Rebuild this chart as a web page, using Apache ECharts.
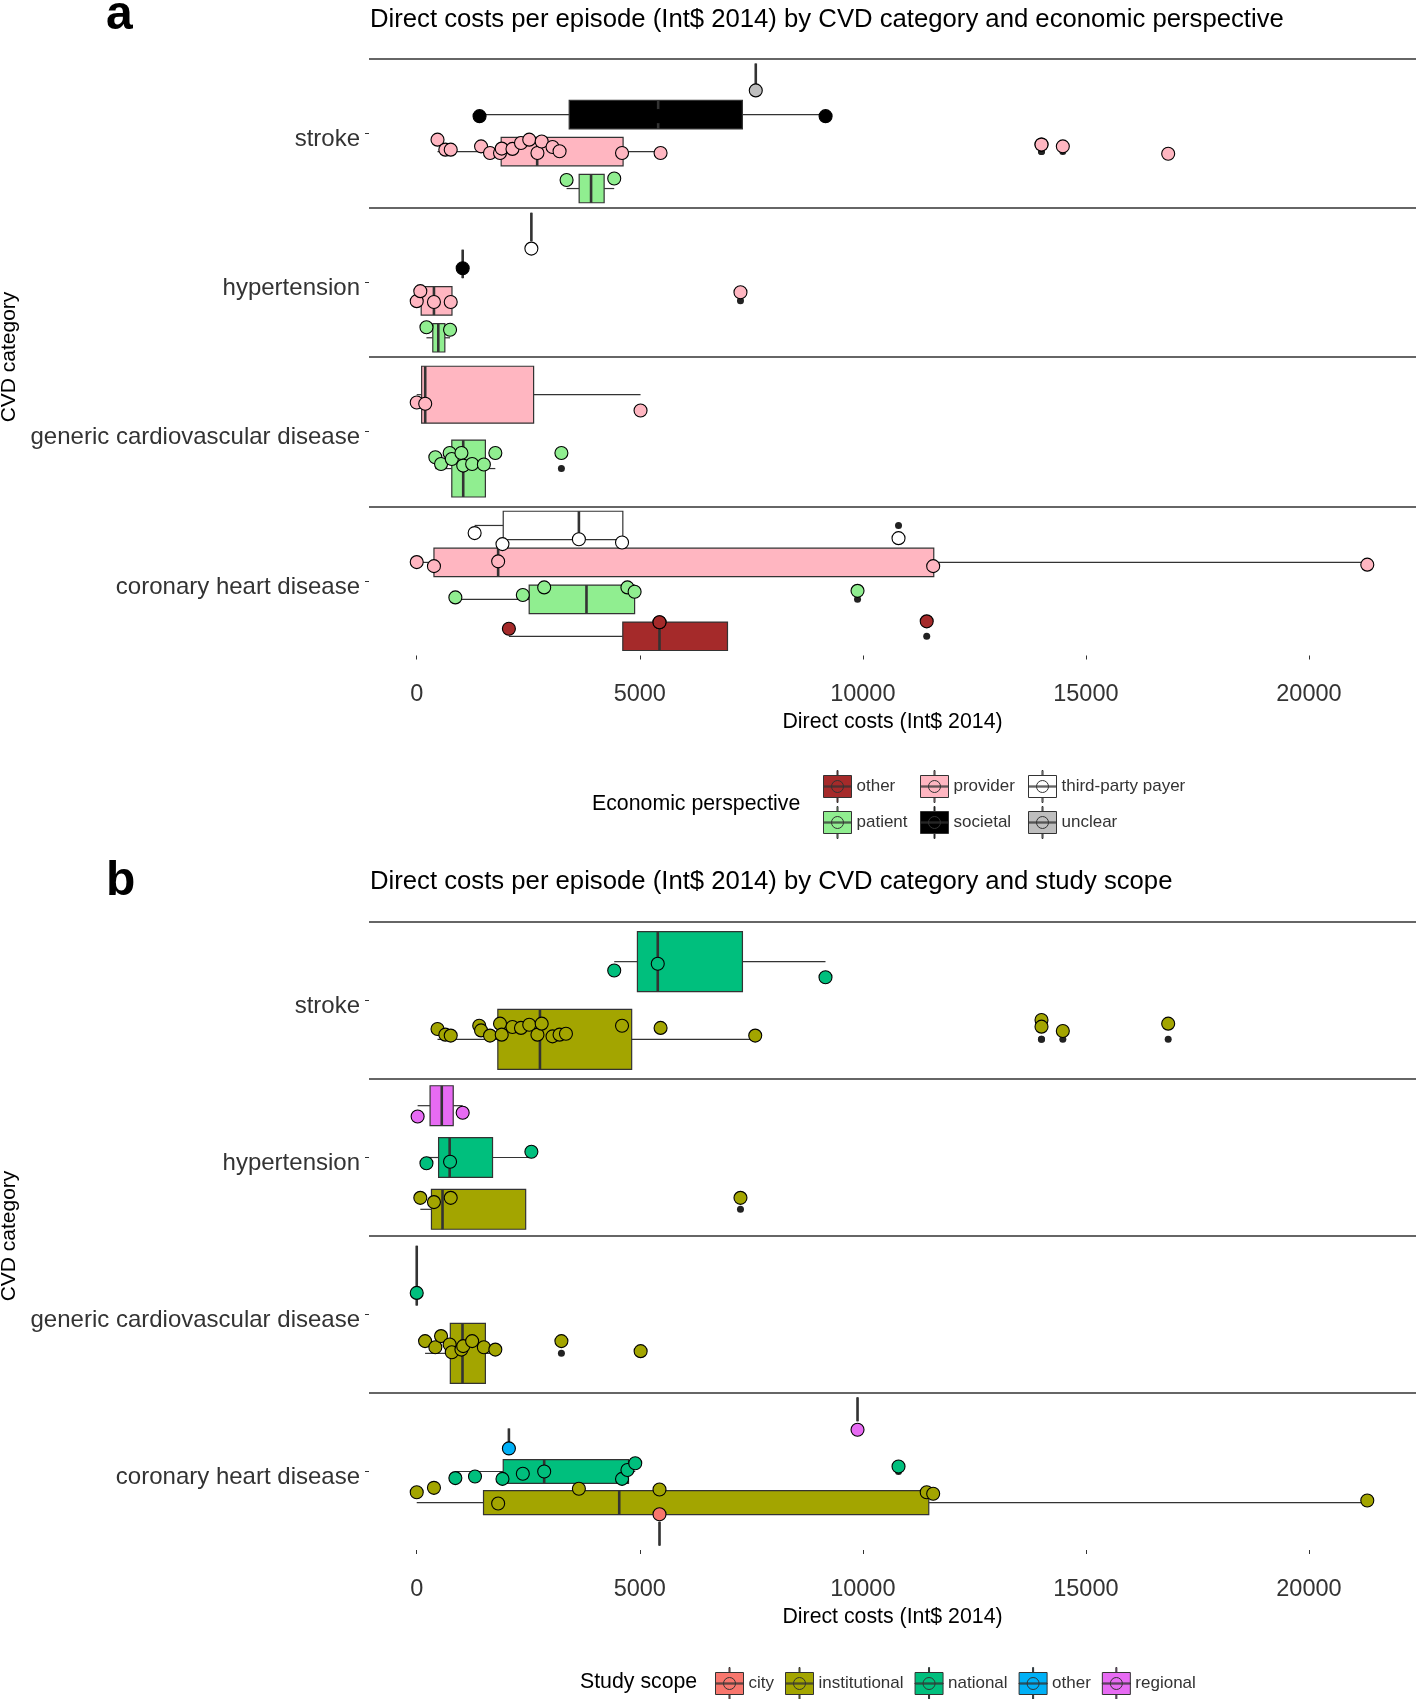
<!DOCTYPE html>
<html><head><meta charset="utf-8">
<script src="https://cdn.jsdelivr.net/npm/echarts@6/dist/echarts.min.js"></script>
<style>html,body{margin:0;padding:0;background:#fff}#c{width:1418px;height:1699px}</style>
</head><body><div id="c"></div>
<script>
// ---------------- DATA ----------------
const categories = ['stroke', 'hypertension', 'generic cardiovascular disease', 'coronary heart disease'];
const xTicks = [0, 5000, 10000, 15000, 20000];

// Panel a: economic perspective. Box stats per category: [whiskerMin, q1, median, q3, whiskerMax] (null = absent)
// Points per category: [cost, vertical jitter in facet units (+ = down)]
const perspectiveGroups = ['other', 'patient', 'provider', 'societal', 'third-party payer', 'unclear'];
const perspectiveColors = ['#A52A2A', '#90EE90', '#FFB6C1', '#000000', '#FFFFFF', '#BEBEBE'];

const aOtherBox = [null, null, null, [2066, 4619, 5442, 6966, 6966]];
const aOtherPts = [[], [], [], [[2066, -0.05], [5442, -0.094], [5442, -0.094], [11432, -0.10]]];

const aPatientBox = [[3359, 3641, 3908, 4201, 4427], [218, 360, 483, 630, 747], [417, 786, 1042, 1539, 1762], [866, 2521, 3805, 4884, 4884]];
const aPatientPts = [
  [[3359, -0.057], [4427, -0.067]],
  [[218, -0.071], [747, -0.054]],
  [[417, -0.076], [545, -0.031], [738, -0.104], [786, -0.064], [1002, -0.104], [1042, -0.02], [1242, -0.031], [1505, -0.027], [1762, -0.104], [3243, -0.104]],
  [[866, -0.013], [2378, -0.029], [2857, -0.08], [4723, -0.08], [4884, -0.051], [9881, -0.057]]
];

const aProviderBox = [[466, 1893, 2700, 4626, 5466], [0, 100, 386, 790, 790], [0, 110, 190, 2620, 5017], [0, 386, 1825, 11590, 21308]];
const aProviderPts = [
  [[466, -0.08], [641, -0.013], [762, -0.013], [1442, -0.035], [1643, 0.009], [1867, 0.009], [1905, -0.02], [2146, -0.018], [2337, -0.058], [2522, -0.08], [2706, 0.009], [2801, -0.068], [3044, -0.031], [3202, -0.002], [4602, 0.009], [5466, 0.009], [14005, -0.047], [14005, -0.047], [14483, -0.035], [16845, 0.014]],
  [[0, 0.002], [80, -0.065], [386, 0.008], [762, 0.008], [7257, -0.058]],
  [[0, 0.052], [190, 0.061], [5017, 0.106]],
  [[0, -0.002], [386, 0.025], [1825, -0.007], [11577, 0.025], [21308, 0.015]]
];

const aSocietalBox = [[1408, 3418, 5412, 7300, 9165], [1030, 1030, 1030, 1030, 1030], null, null];
const aSocietalPts = [[[1408, 0.01], [5412, 0.01], [9165, 0.01]], [[1030, 0.029]], [], []];

const aThirdPartyBox = [null, [2570, 2570, 2570, 2570, 2570], null, [1298, 1939, 3635, 4620, 4620]];
const aThirdPartyPts = [[], [[2570, 0.145]], [], [[1298, 0.051], [1922, 0.125], [3635, 0.092], [4602, 0.114], [10800, 0.085]]];

const aUnclearBox = [[7600, 7600, 7600, 7600, 7600], null, null, null];
const aUnclearPts = [[[7600, 0.085]], [], [], []];

// Panel b: study scope
const scopeGroups = ['city', 'institutional', 'national', 'other', 'regional'];
const scopeColors = ['#F8766D', '#A3A500', '#00BF7D', '#00B0F6', '#E76BF3'];

const bCityBox = [null, null, null, [5442, 5442, 5442, 5442, 5442]];
const bCityPts = [[], [], [], [[5442, -0.124]]];

const bInstitutionalBox = [[466, 1818, 2762, 4818, 7588], [80, 330, 578, 2442, 2442], [187, 753, 1026, 1539, 1762], [0, 1497, 4539, 11478, 21308]];
const bInstitutionalPts = [
  [[466, -0.066], [641, -0.03], [762, -0.024], [1401, -0.087], [1442, -0.057], [1643, -0.024], [1867, -0.1], [1905, -0.03], [2146, -0.079], [2337, -0.073], [2522, -0.093], [2706, -0.03], [2801, -0.1], [3044, -0.019], [3202, -0.03], [3345, -0.036], [4602, -0.087], [5466, -0.073], [7588, -0.024], [14005, -0.123], [14005, -0.081], [14483, -0.053], [16845, -0.1]],
  [[80, -0.073], [386, -0.046], [762, -0.073], [7257, -0.073]],
  [[187, -0.078], [417, -0.039], [545, -0.11], [738, -0.056], [786, -0.007], [1002, -0.024], [1042, -0.046], [1242, -0.078], [1505, -0.039], [1762, -0.024], [3243, -0.078], [5019, -0.014]],
  [[0, -0.066], [386, -0.094], [1825, 0.006], [3635, -0.088], [5442, -0.083], [11432, -0.066], [11577, -0.056], [21308, -0.013]]
];

const bNationalBox = [[4427, 4947, 5403, 7301, 9163], [218, 490, 738, 1699, 2570], [0, 0, 0, 0, 0], [866, 1939, 2857, 4747, 4898]];
const bNationalPts = [
  [[4427, 0.056], [5403, 0.013], [9163, 0.099]],
  [[218, 0.037], [747, 0.027], [2570, -0.037]],
  [[0, 0.11]],
  [[866, 0.042], [1306, 0.032], [1922, 0.047], [2378, 0.014], [2857, 0], [4602, 0.047], [4723, -0.01], [4898, -0.053], [10800, -0.032]]
];

const bOtherBox = [null, null, null, [2066, 2066, 2066, 2066, 2066]];
const bOtherPts = [[], [], [], [[2066, 0.051]]];

const bRegionalBox = [null, [20, 299, 561, 818, 1030], null, [9881, 9881, 9881, 9881, 9881]];
const bRegionalPts = [[], [[20, 0.069], [1030, 0.045]], [], [[9881, 0.13]]];

// ---------------- BUILD ----------------
const FONT = '"Liberation Sans", Arial, sans-serif';
const SPAN = 0.99, BOXFRAC = 0.77;
const LINE = '#333333';

function renderBox(params, api) {
  const yc = api.value(0), half = api.value(6);
  const a = api.coord([api.value(1), yc]);
  const q1 = api.coord([api.value(2), yc]);
  const md = api.coord([api.value(3), yc]);
  const q3 = api.coord([api.value(4), yc]);
  const b = api.coord([api.value(5), yc]);
  const t = api.coord([0, yc - half])[1], u = api.coord([0, yc + half])[1];
  const y0 = Math.min(t, u), h = Math.abs(u - t);
  const color = api.visual('color');
  return {
    type: 'group',
    children: [
      { type: 'line', shape: { x1: a[0], y1: a[1], x2: q1[0], y2: a[1] }, style: { stroke: LINE, lineWidth: 1.2 } },
      { type: 'line', shape: { x1: q3[0], y1: a[1], x2: b[0], y2: a[1] }, style: { stroke: LINE, lineWidth: 1.2 } },
      { type: 'rect', shape: { x: q1[0], y: y0, width: q3[0] - q1[0], height: h }, style: { fill: color, stroke: LINE, lineWidth: 1.2 } },
      { type: 'line', shape: { x1: md[0], y1: y0, x2: md[0], y2: y0 + h }, style: { stroke: LINE, lineWidth: 2.6 } }
    ]
  };
}

function buildPanel(groups, colors, boxes, pts, xIdx, yIdx, prefix) {
  const centers = groups.map(() => categories.map(() => null));
  const halfs = [];
  categories.forEach((c, ci) => {
    const present = groups.map((g, gi) => gi).filter(gi => boxes[gi][ci]);
    const n = present.length;
    present.forEach((gi, k) => { centers[gi][ci] = ci + 0.5 + SPAN * (0.5 - (k + 0.5) / n); });
    halfs[ci] = SPAN / n * BOXFRAC / 2;
  });
  const boxSeries = [], outSeries = [], ptSeries = [];
  groups.forEach((g, gi) => {
    const name = prefix + g;
    const boxData = [], outData = [], ptData = [];
    categories.forEach((c, ci) => {
      const s = boxes[gi][ci];
      if (!s) return;
      const yc = centers[gi][ci];
      boxData.push([yc, s[0], s[1], s[2], s[3], s[4], halfs[ci]]);
      pts[gi][ci].forEach(p => {
        if (p[0] < s[0] || p[0] > s[4]) outData.push([p[0], yc]);
        ptData.push([p[0], yc + p[1]]);
      });
    });
    boxSeries.push({
      type: 'custom', name, coordinateSystem: 'cartesian2d', xAxisIndex: xIdx, yAxisIndex: yIdx,
      renderItem: renderBox, data: boxData, encode: { x: [1, 5], y: 0 },
      itemStyle: { color: colors[gi], borderColor: LINE }, z: 2, silent: true
    });
    outSeries.push({
      type: 'scatter', name, xAxisIndex: xIdx, yAxisIndex: yIdx, data: outData,
      symbol: 'circle', symbolSize: 7, itemStyle: { color: '#222', opacity: 1 }, z: 3, silent: true
    });
    ptSeries.push({
      type: 'scatter', name, xAxisIndex: xIdx, yAxisIndex: yIdx, data: ptData,
      symbol: 'circle', symbolSize: 13,
      itemStyle: { color: colors[gi], borderColor: '#000', borderWidth: 1.1, opacity: 1 }, z: 4, silent: true
    });
  });
  boxSeries[0].markLine = {
    silent: true, symbol: 'none', animation: false, label: { show: false },
    lineStyle: { color: LINE, width: 1.6, type: 'solid' },
    data: categories.map((c, i) => ({ yAxis: i }))
  };
  return boxSeries.concat(outSeries, ptSeries);
}

const KEY = 'path://M0 5H28V27H0Z M13.5 0H14.5V5H13.5Z M13.5 27H14.5V32H13.5Z M0 15.5H28V16.5H0Z M20 16A6 6 0 1 1 8 16A6 6 0 1 1 20 16Z';
function keyItem(name, color) {
  return { name, icon: KEY, itemStyle: { color, borderColor: LINE, borderWidth: 1 } };
}

const aBoxes = [aOtherBox, aPatientBox, aProviderBox, aSocietalBox, aThirdPartyBox, aUnclearBox];
const aPts = [aOtherPts, aPatientPts, aProviderPts, aSocietalPts, aThirdPartyPts, aUnclearPts];
const bBoxes = [bCityBox, bInstitutionalBox, bNationalBox, bOtherBox, bRegionalBox];
const bPts = [bCityPts, bInstitutionalPts, bNationalPts, bOtherPts, bRegionalPts];

const series = buildPanel(perspectiveGroups, perspectiveColors, aBoxes, aPts, 0, 1, '')
  .concat(buildPanel(scopeGroups, scopeColors, bBoxes, bPts, 1, 3, 'b:'));

function xAxisDef(gi, labelMargin, nameGap) {
  return {
    type: 'value', gridIndex: gi, min: -1070, max: 22400,
    axisLine: { show: false, onZero: false }, splitLine: { show: false },
    axisTick: { show: true, customValues: xTicks, length: 4, lineStyle: { color: LINE } },
    axisLabel: { customValues: xTicks, fontSize: 23.5, color: '#333', margin: labelMargin, fontFamily: FONT, formatter: v => String(v) },
    name: 'Direct costs (Int$ 2014)', nameLocation: 'middle', nameGap: nameGap,
    nameTextStyle: { fontSize: 21.3, color: '#000', fontFamily: FONT }
  };
}
function yCatDef(gi) {
  return {
    type: 'category', gridIndex: gi, data: categories, inverse: true,
    axisLine: { show: false, onZero: false }, splitLine: { show: false },
    axisTick: { show: true, alignWithLabel: true, length: 4, lineStyle: { color: LINE } },
    axisLabel: { fontSize: 24, color: '#333', margin: 9, fontFamily: FONT, verticalAlign: 'top', lineHeight: 12 },
    name: 'CVD category', nameLocation: 'middle', nameGap: 347, nameRotate: 90,
    nameTextStyle: { fontSize: 21, color: '#000', fontFamily: FONT }
  };
}
function yValDef(gi) {
  return { type: 'value', gridIndex: gi, min: 0, max: 4, inverse: true, show: false, splitLine: { show: false }, axisLine: { onZero: false } };
}

const legendText = { fontSize: 17, color: '#333', fontFamily: FONT };
const option = {
  animation: false,
  backgroundColor: '#fff',
  textStyle: { fontFamily: FONT },
  title: [
    { text: 'Direct costs per episode (Int$ 2014) by CVD category and economic perspective', left: 370, top: 7, padding: 0,
      textStyle: { fontSize: 25.7, fontWeight: 'normal', color: '#000', fontFamily: FONT } },
    { text: 'Direct costs per episode (Int$ 2014) by CVD category and study scope', left: 370, top: 869, padding: 0,
      textStyle: { fontSize: 25.7, fontWeight: 'normal', color: '#000', fontFamily: FONT } },
    { text: 'a', left: 106, top: -8, padding: 0, textStyle: { fontSize: 48, fontWeight: 'bold', color: '#000', fontFamily: FONT } },
    { text: 'b', left: 106, top: 858, padding: 0, textStyle: { fontSize: 48, fontWeight: 'bold', color: '#000', fontFamily: FONT } },
    { text: 'Economic perspective', left: 592, top: 794, padding: 0, textStyle: { fontSize: 21.3, fontWeight: 'normal', color: '#000', fontFamily: FONT } },
    { text: 'Study scope', left: 580, top: 1672, padding: 0, textStyle: { fontSize: 21.3, fontWeight: 'normal', color: '#000', fontFamily: FONT } }
  ],
  grid: [
    { left: 369, width: 1047, top: 58.5, height: 597, outerBoundsMode: 'none', containLabel: false },
    { left: 369, width: 1047, top: 922, height: 628, outerBoundsMode: 'none', containLabel: false }
  ],
  xAxis: [xAxisDef(0, 27, 56), xAxisDef(1, 28, 57)],
  yAxis: [yCatDef(0), yValDef(0), yCatDef(1), yValDef(1)],
  legend: [
    { orient: 'vertical', left: 818, top: 765, itemWidth: 28, itemHeight: 32, itemGap: 3, selectedMode: false, textStyle: legendText,
      data: [keyItem('other', perspectiveColors[0]), keyItem('patient', perspectiveColors[1])] },
    { orient: 'vertical', left: 915, top: 765, itemWidth: 28, itemHeight: 32, itemGap: 3, selectedMode: false, textStyle: legendText,
      data: [keyItem('provider', perspectiveColors[2]), keyItem('societal', perspectiveColors[3])] },
    { orient: 'vertical', left: 1023, top: 765, itemWidth: 28, itemHeight: 32, itemGap: 3, selectedMode: false, textStyle: legendText,
      data: [keyItem('third-party payer', perspectiveColors[4]), keyItem('unclear', perspectiveColors[5])] },
    { orient: 'horizontal', left: 710, top: 1662, itemWidth: 28, itemHeight: 32, itemGap: 11, selectedMode: false, textStyle: legendText,
      formatter: n => n.replace(/^b:/, ''),
      data: scopeGroups.map((g, i) => keyItem('b:' + g, scopeColors[i])) }
  ],
  series
};
const chart = echarts.init(document.getElementById('c'), null, { renderer: 'canvas' });
chart.setOption(option);
</script>
</body></html>
